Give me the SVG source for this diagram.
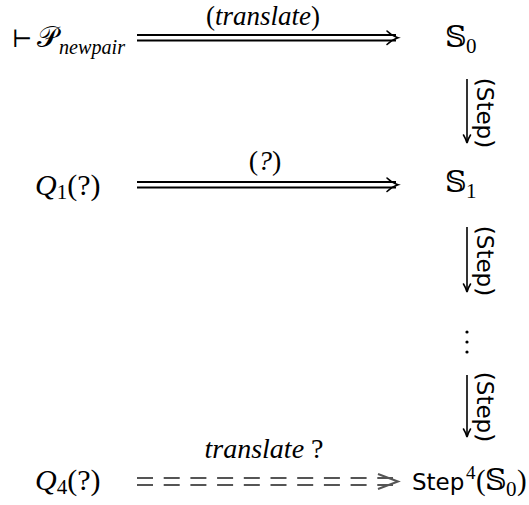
<svg xmlns="http://www.w3.org/2000/svg" width="529" height="505" viewBox="0 0 529 505">
<style>
.serif{font-family:"Liberation Serif","DejaVu Serif",serif;fill:#000}
.it{font-style:italic}
.sans{font-family:"DejaVu Sans","Liberation Sans",sans-serif;fill:#000}
.math{font-family:"DejaVu Serif","DejaVu Sans",serif;fill:#000}
.dbl{stroke:#000;stroke-width:2;fill:none}
.head{stroke:#000;stroke-width:1.6;fill:none;stroke-linecap:round}
.vline{stroke:#000;stroke-width:1.6;fill:none}
.dash{stroke:#555;stroke-width:2;fill:none;stroke-dasharray:16 10.7}
</style>
<rect width="529" height="505" fill="#fff"/>

<g id="n-pnewpair">
<text x="12" y="47" class="math" font-size="24">⊢</text>
<text x="37" y="47" class="math" font-size="29">𝒫</text>
<text x="59" y="54" class="serif it" font-size="22" textLength="66" lengthAdjust="spacingAndGlyphs">newpair</text>
</g>
<g id="n-s0">
<text x="445" y="47" class="math" font-size="30">𝕊</text>
<text x="466" y="53" class="serif" font-size="21">0</text>
</g>
<g id="n-q1">
<text x="35" y="195" class="serif" font-size="30"><tspan class="it">Q</tspan><tspan font-size="21" dy="4">1</tspan><tspan dy="-4">(?)</tspan></text>
</g>
<g id="n-s1">
<text x="445" y="192" class="math" font-size="30">𝕊</text>
<text x="466" y="198" class="serif" font-size="21">1</text>
</g>
<g id="n-dots">
<circle cx="467" cy="332" r="1.6" fill="#000"/>
<circle cx="467" cy="342" r="1.6" fill="#000"/>
<circle cx="467" cy="352" r="1.6" fill="#000"/>
</g>
<g id="n-q4">
<text x="35" y="490" class="serif" font-size="30"><tspan class="it">Q</tspan><tspan font-size="21" dy="4">4</tspan><tspan dy="-4">(?)</tspan></text>
</g>
<g id="n-step4">
<text x="412" y="490" class="sans" font-size="23">Step</text>
<text x="466" y="479" class="serif" font-size="19">4</text>
<text x="476" y="490" class="serif" font-size="29">(</text>
<text x="485" y="490" class="math" font-size="30">𝕊</text>
<text x="506" y="496" class="serif" font-size="21">0</text>
<text x="517" y="490" class="serif" font-size="29">)</text>
</g>

<g id="connectors">
<g id="e-translate">
<path class="dbl" d="M137 35 H396 M137 40.5 H396"/>
<path class="head" d="M387 31 Q392 36 398 37.7 Q392 39.5 387 44.5"/>
<text x="263" y="25" class="serif" font-size="27" text-anchor="middle">(<tspan class="it">translate</tspan>)</text>
</g>
<g id="e-q">
<path class="dbl" d="M137 182 H396 M137 187.5 H396"/>
<path class="head" d="M387 178 Q392 183 398 184.7 Q392 186.5 387 191.5"/>
<text x="265" y="170" class="serif" font-size="28" text-anchor="middle">(<tspan class="it">?</tspan>)</text>
</g>
<g id="e-step1">
<path class="vline" d="M467 79 V142"/>
<path class="head" d="M463.5 135 Q466 139 467 143 Q468 139 470.5 135"/>
<text transform="translate(477 113) rotate(90)" class="sans" font-size="23" text-anchor="middle">(Step)</text>
</g>
<g id="e-step2">
<path class="vline" d="M467 227 V291"/>
<path class="head" d="M463.5 284 Q466 288 467 292 Q468 288 470.5 284"/>
<text transform="translate(477 261) rotate(90)" class="sans" font-size="23" text-anchor="middle">(Step)</text>
</g>
<g id="e-step3">
<path class="vline" d="M467 375 V436"/>
<path class="head" d="M463.5 429 Q466 433 467 437 Q468 433 470.5 429"/>
<text transform="translate(477 407) rotate(90)" class="sans" font-size="23" text-anchor="middle">(Step)</text>
</g>
<g id="e-translate-q">
<path class="dash" d="M137 478 H393 M137 485 H393"/>
<path d="M378 474 L398 481.5 L378 489" stroke="#555" stroke-width="2" fill="none"/>
<text x="264" y="458" class="serif" font-size="28" text-anchor="middle"><tspan class="it">translate</tspan> ?</text>
</g>
</g>
</svg>
